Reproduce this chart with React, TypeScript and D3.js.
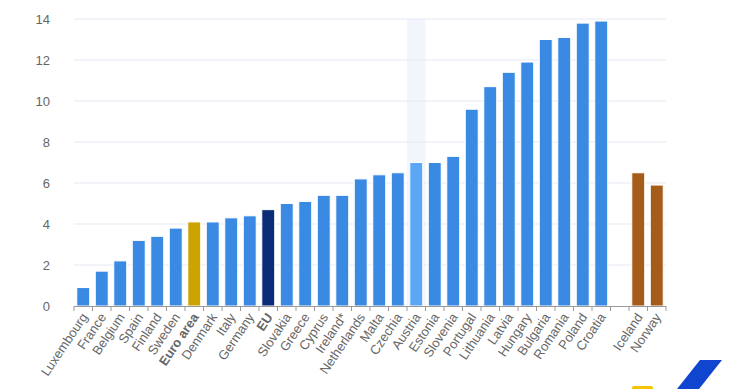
import React from "react";
import * as d3 from "d3";

const countries = ["Luxembourg","France","Belgium","Spain","Finland","Sweden","Euro area","Denmark","Italy","Germany","EU","Slovakia","Greece","Cyprus","Ireland*","Netherlands","Malta","Czechia","Austria","Estonia","Slovenia","Portugal","Lithuania","Latvia","Hungary","Bulgaria","Romania","Poland","Croatia","","Iceland","Norway"];
const values = [0.9,1.7,2.2,3.2,3.4,3.8,4.1,4.1,4.3,4.4,4.7,5.0,5.1,5.4,5.4,6.2,6.4,6.5,7.0,7.0,7.3,9.6,10.7,11.4,11.9,13.0,13.1,13.8,13.9,null,6.5,5.9];
const yTicks = [0,2,4,6,8,10,12,14];
const boldLabels = ["Euro area","EU"];
const hovered = "Austria";

function colorFor(c: string) {
  if (c === "Euro area") return "#cca300";
  if (c === "EU") return "#0b2a78";
  if (c === "Iceland" || c === "Norway") return "#a65c19";
  if (c === hovered) return "#5ca6f6";
  return "#3a8ae4";
}

export default function App() {
  const W = 740, H = 389;
  const left = 74, right = 666, top = 19, bottom = 306;
  const x = d3.scaleBand<number>().domain(d3.range(countries.length)).range([left, right]).paddingInner(0.3).paddingOuter(0.15);
  const xb = d3.scaleBand<number>().domain(d3.range(countries.length)).range([left, right]);
  const y = d3.scaleLinear().domain([0, 14]).range([bottom, top]);
  const hi = countries.indexOf(hovered);
  return (
    <svg width={W} height={H} style={{ position: "absolute", left: 0, top: 0, fontFamily: "'Liberation Sans', Arial, sans-serif" }}>
      <rect x={0} y={0} width={W} height={H} fill="#fff" />
      <rect x={xb(hi)} y={top} width={xb.bandwidth()} height={bottom - top} fill="#f2f5fb" />
      {yTicks.map(t => (
        <g key={t}>
          {t > 0 && <line x1={left} x2={right} y1={y(t)} y2={y(t)} stroke="#e6e9f3" strokeWidth={1} />}
          <text x={50} y={y(t) + 4.5} textAnchor="end" fontSize={13} fill="#666">{t}</text>
        </g>
      ))}
      {values.map((v, i) => v == null ? null : (
        <rect key={i} x={x(i)} y={y(v)} width={x.bandwidth()} height={bottom - y(v)} fill={colorFor(countries[i])} stroke="#fff" strokeWidth={1} />
      ))}
      <line x1={left} x2={right} y1={bottom + 0.5} y2={bottom + 0.5} stroke="#999" strokeWidth={1} />
      {d3.range(countries.length + 1).map(i => {
        const xx = i < countries.length ? xb(i)! : right;
        return <line key={i} x1={xx} x2={xx} y1={bottom} y2={bottom + 5} stroke="#999" strokeWidth={1} />;
      })}
      {countries.map((c, i) => c === "" ? null : (
        <text key={c} transform={`translate(${xb(i)! + xb.bandwidth() / 2 + 5},${bottom + 11}) rotate(-56)`} textAnchor="end" fontSize={13} fill="#666" fontWeight={boldLabels.includes(c) ? "bold" : "normal"}>{c}</text>
      ))}
      <rect x={632} y={386} width={21} height={6} rx={2} fill="#f5c400" />
      <polygon points="700,360 722,360 699,389 677,389" fill="#0f45cf" />
    </svg>
  );
}
